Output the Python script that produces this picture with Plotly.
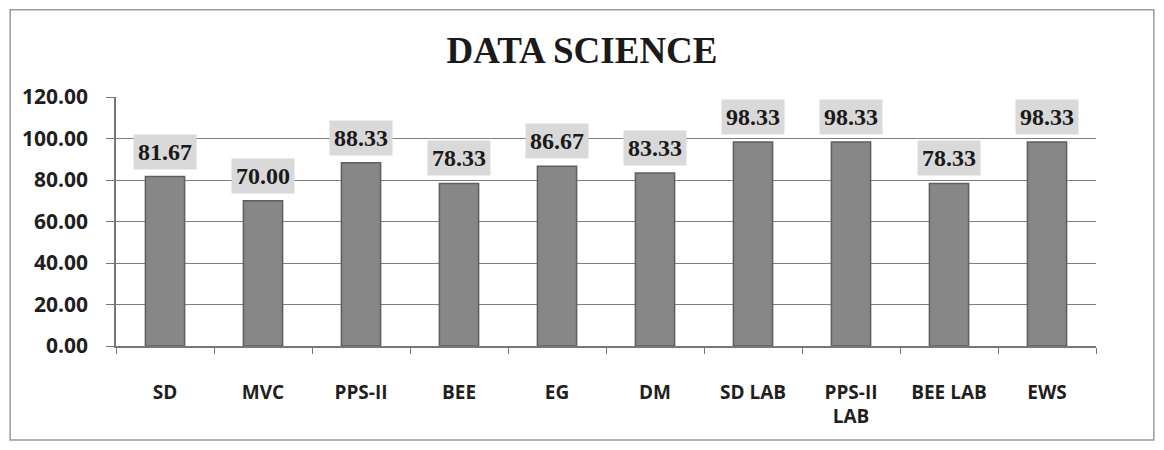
import plotly.graph_objects as go

# course-wise scores, DATA SCIENCE
subjects = ['SD', 'MVC', 'PPS-II', 'BEE', 'EG', 'DM', 'SD LAB', 'PPS-II<br>LAB', 'BEE LAB', 'EWS']
scores = [81.67, 70.00, 88.33, 78.33, 86.67, 83.33, 98.33, 98.33, 78.33, 98.33]
y_ticks = [0, 20, 40, 60, 80, 100, 120]

fig = go.Figure()

fig.add_trace(go.Bar(
    x=subjects,
    y=scores,
    marker=dict(color='#878787', line=dict(color='#5f5f5f', width=1.5)),
    width=0.4,
    hoverinfo='x+y',
))

# value labels with grey boxes above each bar
for s, v in zip(subjects, scores):
    fig.add_annotation(
        x=s, y=v, text=f'<b>{v:.2f}</b>',
        showarrow=False, yanchor='bottom', yshift=7,
        bgcolor='#d9d9d9', borderpad=4,
        font=dict(family='Liberation Serif', size=24, color='#1a1a1a'),
    )

# page body adds 8px margin, so figure is 16px smaller than the window
fig.update_layout(
    width=1148, height=434,
    margin=dict(l=108, r=60, t=89, b=96),
    paper_bgcolor='white', plot_bgcolor='white',
    showlegend=False,
    title=dict(
        text='<b>DATA SCIENCE</b>', x=0.5, xanchor='center', y=0.903, yanchor='middle',
        font=dict(family='Liberation Serif', size=37, color='#1a1a1a'),
    ),
    xaxis=dict(
        showline=True, linecolor='#777777', linewidth=1.5,
        ticks='outside', tickson='boundaries', ticklen=6, tickcolor='#777777',
        ticklabelstandoff=28,
        tickfont=dict(family='Open Sans', size=19, color='#1f1f1f', weight='bold'),
        showgrid=False,
    ),
    yaxis=dict(
        range=[0, 120], tickvals=y_ticks, tickformat='.2f',
        showline=True, linecolor='#777777', linewidth=1.5,
        ticks='outside', ticklen=8, tickcolor='#777777',
        ticklabelstandoff=14,
        gridcolor='#7f7f7f', gridwidth=1.2,
        tickfont=dict(family='Open Sans', size=21, color='#1f1f1f', weight='bold'),
        zeroline=False,
    ),
)

# outer chart border
fig.add_shape(type='rect', xref='paper', yref='paper',
              x0=-0.108, x1=1.059, y0=-0.378, y1=1.35,
              line=dict(color='#9a9a9a', width=1.5))

fig.write_html("out.html")
